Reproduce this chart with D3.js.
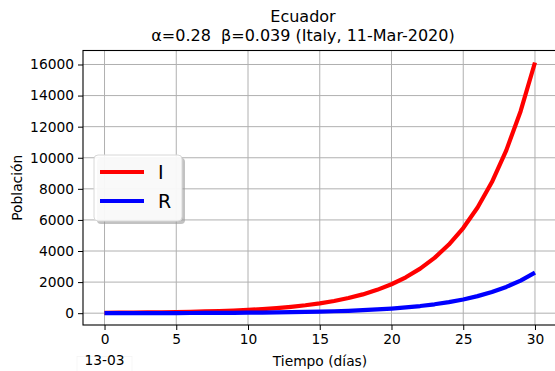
<!DOCTYPE html>
<html>
<head>
<meta charset="utf-8">
<script src="https://cdn.jsdelivr.net/npm/d3@7"></script>
<style>
  body { margin: 0; background: #fff; }
  text { font-family: "DejaVu Sans", sans-serif; fill: #000; white-space: pre; }
</style>
</head>
<body>
<div id="svg-container"></div>
<script>
// data
const days = d3.range(0, 31);
const infected = [25, 31, 38, 47, 59, 73, 91, 112, 140, 173, 215, 267, 331, 411, 510,
    632, 785, 974, 1209, 1500, 1861, 2310, 2867, 3558, 4415, 5480, 6800, 8439, 10473, 12997, 16128];
const recovered = [0, 1, 2, 4, 6, 8, 11, 14, 19, 24, 31, 39, 50, 63, 79,
    98, 123, 154, 192, 239, 297, 370, 460, 572, 711, 883, 1097, 1362, 1691, 2099, 2606];
const xTicks = [0, 5, 10, 15, 20, 25, 30];
const yTicks = [0, 2000, 4000, 6000, 8000, 10000, 12000, 14000, 16000];
const seriesNames = ['I', 'R'];
const seriesColors = ['#ff0000', '#0000ff'];
const titleLines = ['Ecuador', 'α=0.28  β=0.039 (Italy, 11-Mar-2020)'];
const startDate = '13-03';

// dimensions
const dim = { width: 555, height: 371 };
const plot = { left: 83, right: 556.5, top: 50.5, bottom: 325 };

const svg = d3.select('#svg-container')
    .append('svg')
    .attr('width', dim.width)
    .attr('height', dim.height);

// scales
const xScale = d3.scaleLinear()
    .domain([-1.5, 31.5])
    .range([plot.left, plot.right]);

const yScale = d3.scaleLinear()
    .domain([-760, 16900])
    .range([plot.bottom, plot.top]);

// grid
const grid = svg.append('g');
grid.selectAll('.gx')
    .data(xTicks)
    .join('line')
    .attr('x1', d => xScale(d)).attr('x2', d => xScale(d))
    .attr('y1', plot.top).attr('y2', plot.bottom)
    .attr('stroke', '#b0b0b0').attr('stroke-width', 1);
grid.selectAll('.gy')
    .data(yTicks)
    .join('line')
    .attr('class', 'gy')
    .attr('x1', plot.left).attr('x2', plot.right)
    .attr('y1', d => yScale(d)).attr('y2', d => yScale(d))
    .attr('stroke', '#b0b0b0').attr('stroke-width', 1);

// lines
const line = d3.line()
    .x((d, i) => xScale(days[i]))
    .y(d => yScale(d))
    .curve(d3.curveLinear);

[infected, recovered].forEach((s, i) => {
    svg.append('path')
        .datum(s)
        .attr('d', line)
        .attr('fill', 'none')
        .attr('stroke', seriesColors[i])
        .attr('stroke-width', 4.2)
        .attr('stroke-linejoin', 'round');
});

// axes
const xAxis = svg.append('g')
    .attr('transform', `translate(0, ${plot.bottom})`)
    .call(d3.axisBottom(xScale).tickValues(xTicks).tickSize(5).tickPadding(4));
const yAxis = svg.append('g')
    .attr('transform', `translate(${plot.left}, 0)`)
    .call(d3.axisLeft(yScale).tickValues(yTicks).tickSize(5).tickPadding(4).tickFormat(d3.format('d')));

[xAxis, yAxis].forEach(a => {
    a.select('.domain').remove();
    a.selectAll('text').style('font-family', '"DejaVu Sans", sans-serif').style('font-size', '13.8px');
    a.selectAll('line').attr('stroke', '#000');
});

// spines
svg.append('rect')
    .attr('x', plot.left).attr('y', plot.top)
    .attr('width', plot.right - plot.left).attr('height', plot.bottom - plot.top)
    .attr('fill', 'none').attr('stroke', '#000').attr('stroke-width', 1.1);

// date label under first tick
svg.append('rect')
    .attr('x', 77).attr('y', 356.5).attr('width', 55).attr('height', 20)
    .attr('fill', '#fff').attr('stroke', '#f4f4f4').attr('stroke-width', 0.8);
svg.append('text')
    .attr('x', xScale(0)).attr('y', 365)
    .attr('text-anchor', 'middle')
    .style('font-size', '13.8px')
    .text(startDate);

// axis labels
svg.append('text')
    .attr('x', (plot.left + 555) / 2 + 1).attr('y', 366)
    .attr('text-anchor', 'middle')
    .style('font-size', '13.8px')
    .text('Tiempo (días)');
svg.append('text')
    .attr('transform', `translate(22, ${(plot.top + plot.bottom) / 2}) rotate(-90)`)
    .attr('text-anchor', 'middle')
    .style('font-size', '13.8px')
    .text('Población');

// title
svg.selectAll('.title')
    .data(titleLines)
    .join('text')
    .attr('x', 303)
    .attr('y', (d, i) => 22 + i * 19)
    .attr('text-anchor', 'middle')
    .style('font-size', '16px')
    .text(d => d);

// legend
const legend = svg.append('g').attr('transform', 'translate(94, 155)');
legend.append('rect')
    .attr('x', 3).attr('y', 3).attr('width', 88).attr('height', 66).attr('rx', 4)
    .attr('fill', '#999').attr('opacity', 0.6);
legend.append('rect')
    .attr('width', 88).attr('height', 66).attr('rx', 4)
    .attr('fill', '#fff').attr('fill-opacity', 0.9)
    .attr('stroke', '#d8d8d8').attr('stroke-width', 1);
seriesNames.forEach((name, i) => {
    const yy = 17 + i * 29;
    legend.append('line')
        .attr('x1', 6).attr('x2', 50).attr('y1', yy).attr('y2', yy)
        .attr('stroke', seriesColors[i]).attr('stroke-width', 4.2);
    legend.append('text')
        .attr('x', 64).attr('y', yy + 6.5)
        .style('font-size', '19px')
        .text(name);
});
</script>
</body>
</html>
